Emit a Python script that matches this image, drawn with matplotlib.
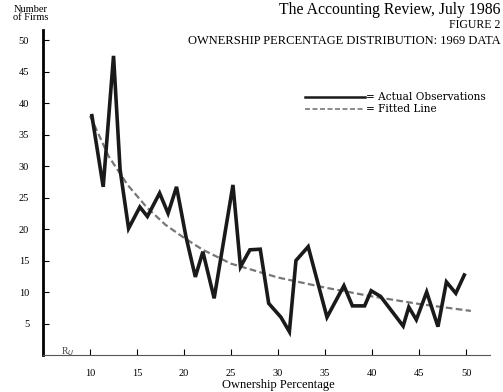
import matplotlib.pyplot as plt

# Actual observations (percent, number of firms)
obs_x = [10.2, 11.4, 12.5, 13.2, 14.1, 15.3, 16.1, 17.4, 18.3, 19.2, 20.2,
         21.2, 22.0, 23.2, 25.2, 26.0, 27.0, 28.1, 29.0, 30.3, 31.2, 31.9,
         33.2, 35.2, 37.0, 37.9, 39.2, 39.9, 40.9, 43.3, 43.9, 44.7, 45.8,
         47.0, 47.9, 48.9, 49.8]
obs_y = [38.0, 26.7, 47.5, 29.4, 20.1, 23.5, 22.0, 25.7, 22.5, 26.7, 18.8,
         12.4, 16.4, 9.0, 27.0, 14.0, 16.7, 16.8, 8.2, 6.0, 3.7, 15.0,
         17.2, 6.0, 11.0, 7.8, 7.8, 10.2, 9.3, 4.6, 7.6, 5.6, 10.0,
         4.5, 11.6, 9.8, 12.7]

# Fitted line
fit_x = [10, 12, 14, 16, 18, 20, 22, 25, 30, 35, 40, 45, 50.5]
fit_y = [38.0, 31.5, 27.0, 23.5, 20.7, 18.6, 16.7, 14.5, 12.3, 10.7, 9.3, 8.1, 7.0]

xticks = [10, 15, 20, 25, 30, 35, 40, 45, 50]
yticks = [5, 10, 15, 20, 25, 30, 35, 40, 45, 50]

plt.rcParams['font.family'] = ['Liberation Serif', 'DejaVu Serif']

fig = plt.figure(figsize=(5.03, 3.92), dpi=100)
ax = fig.add_axes([0.0855, 0.0944, 0.888, 0.829])

ax.plot(fit_x, fit_y, color='#777777', lw=1.6, ls=(0, (3, 1.5)))
ax.plot(obs_x, obs_y, color='#1a1a1a', lw=2.6, solid_joinstyle='miter')

ax.set_xlim(5, 52.5)
ax.set_ylim(0, 51.6)

for s in ['top', 'right']:
    ax.spines[s].set_visible(False)
ax.spines['left'].set_linewidth(2.0)
ax.spines['bottom'].set_linewidth(0.8)
ax.spines['bottom'].set_color('#555555')
ax.spines['bottom'].set_linestyle((0, (4, 1)))

ax.set_xticks(xticks)
ax.set_yticks(yticks)
ax.tick_params(axis='both', direction='in', labelsize=7.5, length=4, width=0.8)
ax.tick_params(axis='y', pad=10)
ax.tick_params(axis='x', pad=10)

ax.set_xlabel('Ownership Percentage', fontsize=9)
ax.xaxis.set_label_coords((278 - 43) / 447, -0.075)
ax.text(7.6, 0.6, r'R$_U$', fontsize=7, ha='center', va='center', color='#444444')

fig.text(0.062, 0.988, 'Number\nof Firms', fontsize=7.5, ha='center', va='top',
         linespacing=0.95)
fig.text(0.995, 0.995, 'The Accounting Review, July 1986', fontsize=11.3,
         ha='right', va='top')
fig.text(0.995, 0.952, 'FIGURE 2', fontsize=8.5, ha='right', va='top')
fig.text(0.995, 0.91, 'OWNERSHIP PERCENTAGE DISTRIBUTION: 1969 DATA',
         fontsize=9, ha='right', va='top')

# legend drawn as in the original figure
ax.plot([32.9, 39.2], [40.9, 40.9], color='#1a1a1a', lw=1.8)
ax.plot([32.9, 39.2], [39.1, 39.1], color='#777777', lw=1.2, ls=(0, (3, 1.5)))
ax.text(39.4, 40.9, '= Actual Observations', fontsize=7.6, va='center',
        family='DejaVu Serif')
ax.text(39.4, 39.1, '= Fitted Line', fontsize=7.6, va='center',
        family='DejaVu Serif')

fig.savefig('out.png', dpi=100)
